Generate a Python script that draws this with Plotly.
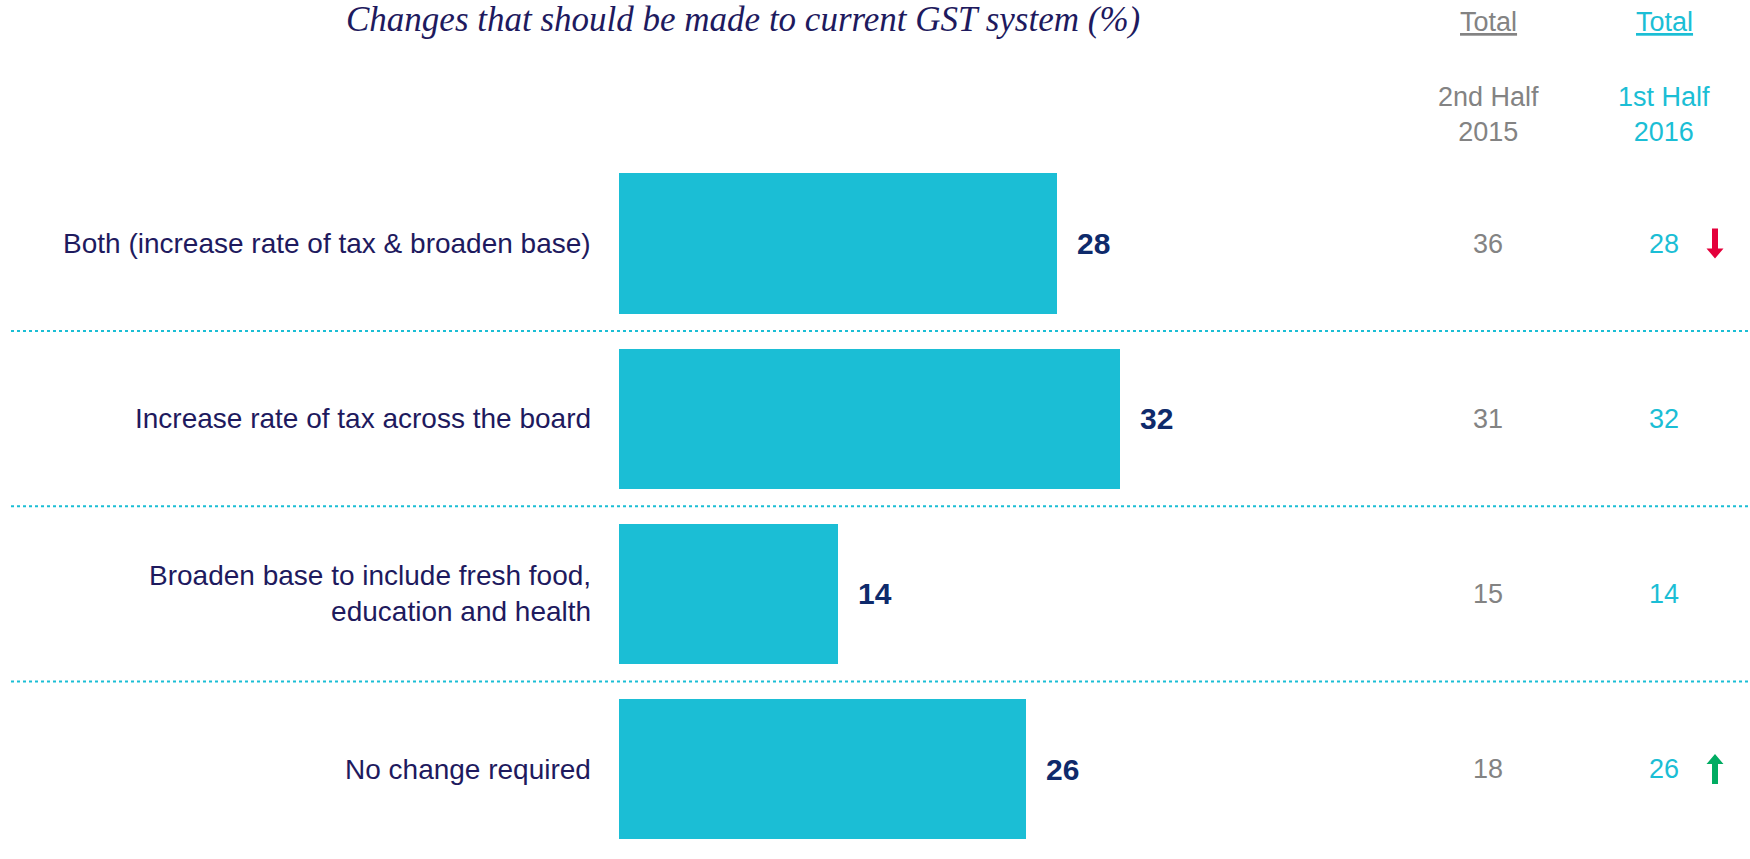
import plotly.graph_objects as go

# ---- data ----
categories = [
    "Both (increase rate of tax & broaden base)",
    "Increase rate of tax across the board",
    "Broaden base to include fresh food,<br>education and health",
    "No change required",
]
values_2016 = [28, 32, 14, 26]
values_2015 = [36, 31, 15, 18]
change_flags = ["down", None, None, "up"]

title_text = "Changes that should be made to current GST system (%)"
col_head_1 = "Total"
col_head_2 = "Total"
col_sub_1 = "2nd Half<br>2015"
col_sub_2 = "1st Half<br>2016"

# ---- styles ----
W, H = 1750, 859
CYAN = "#1BBED5"
NAVY = "#1E1A5E"
BOLDNAVY = "#0E2A6B"
GRAY = "#838383"
RED = "#E4003B"
GREEN = "#00AC62"

rows = list(range(len(categories)))

fig = go.Figure()
fig.add_trace(go.Bar(
    x=values_2016, y=rows, orientation="h", width=0.8,
    marker=dict(color=CYAN, line=dict(width=0)),
    hoverinfo="skip",
))

px_per_unit = 15.63
x0_px = 619.4
row_px = 175.2
row0_px = 243.5

xr = [-x0_px / px_per_unit, (W - x0_px) / px_per_unit]
yr = [(H - row0_px) / row_px, -row0_px / row_px]

ann = []
shapes = []

# title
ann.append(dict(text=title_text, xref="paper", yref="paper", x=743 / W, y=1 - 20 / H,
                xanchor="center", yanchor="middle", showarrow=False,
                font=dict(family="Liberation Serif", size=35, color=NAVY, style="italic")))
# column headers
col1_x = 1488 / W
col2_x = 1664 / W
ann.append(dict(text="<u>" + col_head_1 + "</u>", xref="paper", yref="paper", x=col1_x, y=1 - 22 / H,
                showarrow=False, xanchor="center", yanchor="middle",
                font=dict(family="Liberation Sans", size=27, color=GRAY)))
ann.append(dict(text="<u>" + col_head_2 + "</u>", xref="paper", yref="paper", x=col2_x, y=1 - 22 / H,
                showarrow=False, xanchor="center", yanchor="middle",
                font=dict(family="Liberation Sans", size=27, color=CYAN)))
ann.append(dict(text=col_sub_1, xref="paper", yref="paper", x=col1_x, y=1 - 114 / H,
                showarrow=False, xanchor="center", yanchor="middle",
                font=dict(family="Liberation Sans", size=27, color=GRAY)))
ann.append(dict(text=col_sub_2, xref="paper", yref="paper", x=col2_x, y=1 - 114 / H,
                showarrow=False, xanchor="center", yanchor="middle",
                font=dict(family="Liberation Sans", size=27, color=CYAN)))

for i, cat in enumerate(categories):
    ann.append(dict(text=cat, xref="x", yref="y", x=0, y=i, xanchor="right", yanchor="middle",
                    xshift=-26, align="right", showarrow=False,
                    font=dict(family="Liberation Sans", size=28, color=NAVY)))
    ann.append(dict(text="<b>%d</b>" % values_2016[i], xref="x", yref="y", x=values_2016[i], y=i,
                    xanchor="left", yanchor="middle", xshift=18, showarrow=False,
                    font=dict(family="Liberation Sans", size=30, color=BOLDNAVY)))
    ann.append(dict(text=str(values_2015[i]), xref="paper", yref="y", x=col1_x, y=i,
                    xanchor="center", yanchor="middle", showarrow=False,
                    font=dict(family="Liberation Sans", size=27, color=GRAY)))
    ann.append(dict(text=str(values_2016[i]), xref="paper", yref="y", x=col2_x, y=i,
                    xanchor="center", yanchor="middle", showarrow=False,
                    font=dict(family="Liberation Sans", size=27, color=CYAN)))
    flag = change_flags[i]
    if flag is not None:
        if flag == "down":
            path = "M -3 15 L 3 15 L 3 -5 L 8.5 -5 L 0 -15 L -8.5 -5 L -3 -5 Z"
            col = RED
        else:
            path = "M -3 -15 L 3 -15 L 3 5 L 8.5 5 L 0 15 L -8.5 5 L -3 5 Z"
            col = GREEN
        shapes.append(dict(type="path", path=path, xref="paper", yref="y",
                           xsizemode="pixel", ysizemode="pixel",
                           xanchor=1715 / W, yanchor=i, fillcolor=col,
                           line=dict(width=0)))

# dotted separators
for i in range(len(categories) - 1):
    shapes.append(dict(type="line", xref="paper", yref="y", x0=11 / W, x1=1, y0=i + 0.5, y1=i + 0.5,
                       line=dict(color=CYAN, width=2, dash="dot")))

fig.update_layout(
    width=W, height=H,
    margin=dict(l=0, r=0, t=0, b=0),
    paper_bgcolor="white", plot_bgcolor="white",
    showlegend=False,
    xaxis=dict(range=xr, visible=False, fixedrange=True),
    yaxis=dict(range=yr, visible=False, fixedrange=True),
    annotations=ann,
    shapes=shapes,
    bargap=0,
)

fig.write_html("out.html")
